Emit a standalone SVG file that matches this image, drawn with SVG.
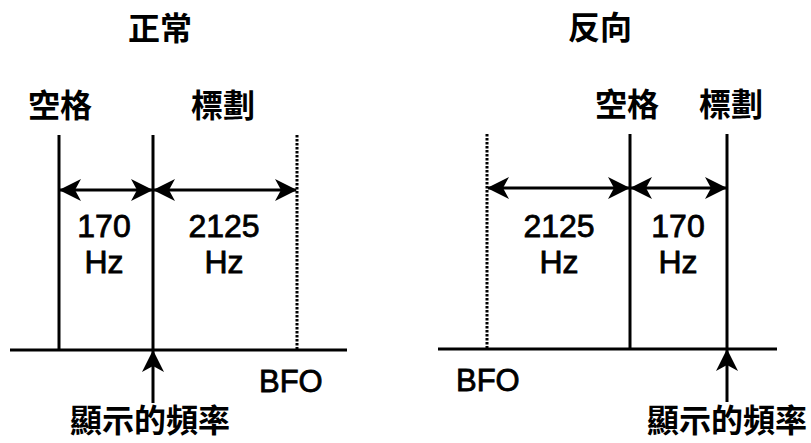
<svg xmlns="http://www.w3.org/2000/svg" width="811" height="443" viewBox="0 0 811 443">
<style>
.cjk{font-family:"Noto Sans CJK TC","Noto Sans CJK SC",sans-serif;font-weight:700;font-size:32px;fill:#000;text-anchor:middle}
.lat{font-family:"Liberation Sans",Arial,sans-serif;font-size:32px;fill:#000;stroke:#000;stroke-width:0.8;text-anchor:middle}
.bfo{font-family:"Liberation Sans",Arial,sans-serif;font-size:31px;fill:#000;stroke:#000;stroke-width:0.8}
.ln{stroke:#000;stroke-width:3;fill:none}
.dot{stroke:#000;stroke-width:3;fill:none;stroke-dasharray:2.5 1.5}
.dim{stroke:#000;stroke-width:3;fill:none;marker-start:url(#ah);marker-end:url(#ah)}
.up{stroke:#000;stroke-width:3;fill:none;marker-end:url(#ah)}
</style>
<defs>
<marker id="ah" viewBox="0 0 22 24" refX="21" refY="12" markerWidth="22" markerHeight="24" markerUnits="userSpaceOnUse" orient="auto-start-reverse">
<path d="M0,1 L22,12 L0,23 L6,12 Z" fill="#000"/>
</marker>
</defs>
<rect width="811" height="443" fill="#fff"/>

<g id="normal">
<text class="cjk" x="160" y="40">正常</text>
<text class="cjk" x="60" y="117">空格</text>
<text class="cjk" x="223" y="117">標劃</text>
<text class="lat" x="104" y="237">170</text>
<text class="lat" x="104" y="273">Hz</text>
<text class="lat" x="224" y="237">2125</text>
<text class="lat" x="224" y="273">Hz</text>
<text class="bfo" x="259" y="392">BFO</text>
<text class="cjk" x="150" y="432">顯示的頻率</text>
</g>

<g id="reverse">
<text class="cjk" x="600" y="39">反向</text>
<text class="cjk" x="627" y="116">空格</text>
<text class="cjk" x="731" y="116">標劃</text>
<text class="lat" x="559" y="237">2125</text>
<text class="lat" x="559" y="273">Hz</text>
<text class="lat" x="678" y="237">170</text>
<text class="lat" x="678" y="273">Hz</text>
<text class="bfo" x="456" y="391">BFO</text>
<text class="cjk" x="727" y="432">顯示的頻率</text>
</g>

<g id="connectors">
<line class="ln" x1="10" y1="350" x2="347" y2="350"/>
<line class="ln" x1="59" y1="135" x2="59" y2="350"/>
<line class="ln" x1="153" y1="135" x2="153" y2="350"/>
<line class="dot" x1="297" y1="135" x2="297" y2="350"/>
<line class="dim" x1="60" y1="190" x2="152" y2="190"/>
<line class="dim" x1="154" y1="190" x2="296" y2="190"/>
<line class="up" x1="153" y1="403" x2="153" y2="351"/>

<line class="ln" x1="438" y1="349" x2="777" y2="349"/>
<line class="dot" x1="487" y1="134" x2="487" y2="349"/>
<line class="ln" x1="630" y1="134" x2="630" y2="349"/>
<line class="ln" x1="727" y1="134" x2="727" y2="349"/>
<line class="dim" x1="488" y1="188" x2="629" y2="188"/>
<line class="dim" x1="631" y1="188" x2="726" y2="188"/>
<line class="up" x1="727" y1="402" x2="727" y2="350"/>
</g>
</svg>
